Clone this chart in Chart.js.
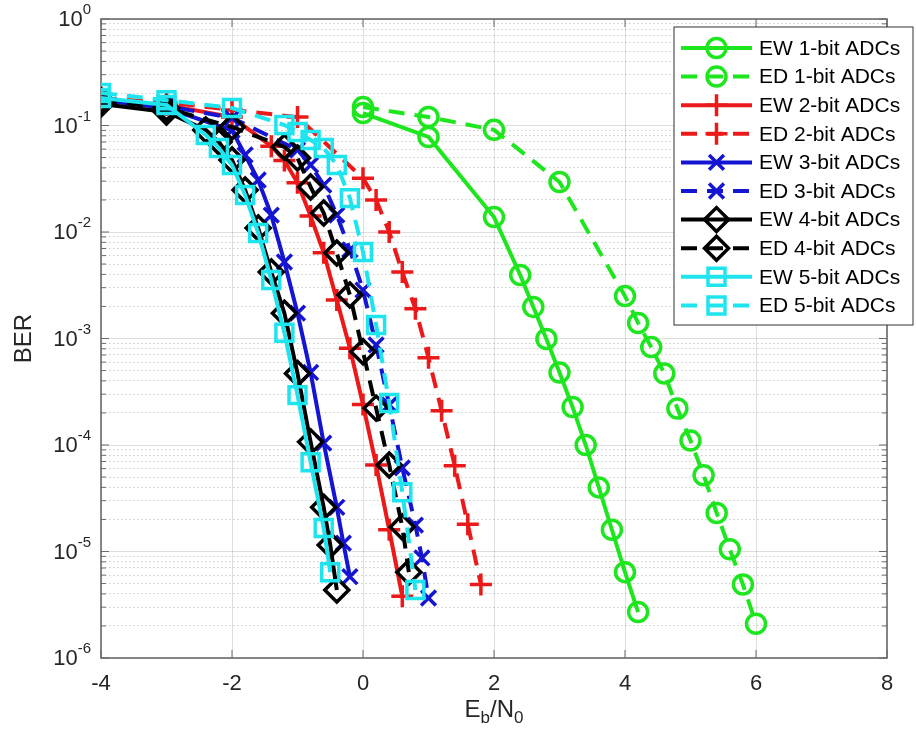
<!DOCTYPE html>
<html>
<head>
<meta charset="utf-8">
<title>BER vs Eb/N0</title>
<script src="https://cdn.jsdelivr.net/npm/chart.js@4.4.1/dist/chart.umd.min.js"></script>
<style>
  body { margin: 0; background: #fff; }
  #wrap { position: relative; width: 916px; height: 749px; }
  #xlabel {
    position: absolute; left: 101px; width: 786px; top: 695px; text-align: center;
    font-family: "Liberation Sans", Arial, sans-serif; font-size: 24px; color: #262626;
  }
  #xlabel sub { font-size: 17px; }
</style>
</head>
<body>
<div id="wrap">
  <canvas id="chart" width="916" height="749"></canvas>
  <div id="xlabel">E<sub>b</sub>/N<sub>0</sub></div>
</div>
<script>
const FONT = "'Liberation Sans', Arial, sans-serif";
const TEXT_COLOR = "#262626";
const AXIS_COLOR = "#6b6b6b";
const GREEN = "rgb(30, 230, 30)";
const RED = "rgb(235, 25, 25)";
const BLUE = "rgb(20, 20, 210)";
const BLACK = "rgb(0, 0, 0)";
const CYAN = "rgb(30, 228, 238)";

// legend labels
const seriesNames = [
    "EW 1-bit ADCs", "ED 1-bit ADCs",
    "EW 2-bit ADCs", "ED 2-bit ADCs",
    "EW 3-bit ADCs", "ED 3-bit ADCs",
    "EW 4-bit ADCs", "ED 4-bit ADCs",
    "EW 5-bit ADCs", "ED 5-bit ADCs"
];

// Eb/N0 (dB) and BER
const ew1Snr = [0, 1, 2, 2.4, 2.6, 2.8, 3.0, 3.2, 3.4, 3.6, 3.8, 4.0, 4.2];
const ew1Ber = [0.131, 0.078, 0.0138, 0.00395, 0.00198, 0.00099, 0.00048, 0.000227, 1.0e-4, 4.0e-5, 1.6e-5, 6.4e-6, 2.7e-6];

const ed1Snr = [0, 1, 2, 3, 4, 4.2, 4.4, 4.6, 4.8, 5.0, 5.2, 5.4, 5.6, 5.8, 6.0];
const ed1Ber = [0.149, 0.12, 0.091, 0.0295, 0.0025, 0.0014, 0.00083, 0.00047, 0.00022, 0.00011, 5.2e-5, 2.3e-5, 1.05e-5, 4.9e-6, 2.1e-6];

const ew2Snr = [-4, -3, -2, -1.4, -1.2, -1.0, -0.8, -0.6, -0.4, -0.2, 0, 0.2, 0.4, 0.6];
const ew2Ber = [0.17, 0.156, 0.12, 0.064, 0.047, 0.029, 0.0141, 0.0064, 0.0023, 0.00081, 0.00024, 6.5e-5, 1.6e-5, 3.8e-6];

const ed2Snr = [-4, -3, -2, -1, 0, 0.2, 0.4, 0.6, 0.8, 1.0, 1.2, 1.4, 1.6, 1.8];
const ed2Ber = [0.18, 0.165, 0.14, 0.12, 0.032, 0.020, 0.010, 0.0042, 0.0019, 0.00066, 0.00021, 6.4e-5, 1.8e-5, 4.9e-6];

const ew3Snr = [-4, -3, -2, -1.8, -1.6, -1.4, -1.2, -1.0, -0.8, -0.6, -0.4, -0.3, -0.2];
const ew3Ber = [0.173, 0.146, 0.09, 0.0529, 0.0308, 0.0144, 0.00523, 0.00173, 0.00048, 0.000104, 2.6e-5, 1.2e-5, 5.8e-6];

const ed3Snr = [-4, -3, -2, -1, -0.8, -0.6, -0.4, -0.2, 0, 0.2, 0.4, 0.6, 0.8, 0.9, 1.0];
const ed3Ber = [0.173, 0.152, 0.118, 0.0589, 0.0426, 0.0276, 0.0144, 0.0068, 0.00285, 0.00087, 0.000238, 6.1e-5, 1.77e-5, 8.7e-6, 3.66e-6];

const ew4Snr = [-4, -3, -2.4, -2.2, -2, -1.8, -1.6, -1.4, -1.2, -1.0, -0.8, -0.6, -0.5, -0.4];
const ew4Ber = [0.159, 0.134, 0.0908, 0.070, 0.0474, 0.0248, 0.0109, 0.00421, 0.00173, 0.00047, 0.000107, 2.6e-5, 1.15e-5, 4.35e-6];

const ed4Snr = [-4, -3, -2, -1.2, -1.0, -0.8, -0.6, -0.4, -0.2, 0, 0.2, 0.4, 0.6, 0.7];
const ed4Ber = [0.173, 0.146, 0.0968, 0.0629, 0.0495, 0.0265, 0.0151, 0.00635, 0.00256, 0.00075, 0.000222, 6.5e-5, 1.7e-5, 6.4e-6];

const ew5Snr = [-4, -3, -2.4, -2.2, -2, -1.8, -1.6, -1.4, -1.2, -1.0, -0.8, -0.6, -0.5];
const ew5Ber = [0.181, 0.156, 0.0814, 0.0615, 0.0426, 0.0223, 0.0098, 0.00354, 0.00113, 0.000294, 6.9e-5, 1.66e-5, 6.4e-6];

const ed5Snr = [-4, -3, -2, -1.2, -1.0, -0.8, -0.6, -0.4, -0.2, 0, 0.2, 0.4, 0.6, 0.8];
const ed5Ber = [0.202, 0.173, 0.146, 0.101, 0.0869, 0.0731, 0.0615, 0.0426, 0.0208, 0.0065, 0.00134, 0.000248, 3.6e-5, 4.35e-6];

// axis ticks
const xTicks = [-4, -2, 0, 2, 4, 6, 8];
const yDecades = [1e-6, 1e-5, 1e-4, 1e-3, 1e-2, 1e-1, 1];
const yMinorSteps = [2, 3, 4, 5, 6, 7, 8, 9];

const snrs = [ew1Snr, ed1Snr, ew2Snr, ed2Snr, ew3Snr, ed3Snr, ew4Snr, ed4Snr, ew5Snr, ed5Snr];
const bers = [ew1Ber, ed1Ber, ew2Ber, ed2Ber, ew3Ber, ed3Ber, ew4Ber, ed4Ber, ew5Ber, ed5Ber];
const colors = [GREEN, GREEN, RED, RED, BLUE, BLUE, BLACK, BLACK, CYAN, CYAN];
const markers = ["circle", "circle", "cross", "cross", "crossRot", "crossRot", "rectRot", "rectRot", "rect", "rect"];
const markerSizes = [9.5, 9.5, 11, 11, 10.5, 10.5, 12, 12, 12, 12];

const isDecade = (v) => Math.abs(Math.log10(v) - Math.round(Math.log10(v))) < 1e-9;

const yTickValues = [];
yDecades.forEach((d) => {
    yTickValues.push(d);
    if (d < 1) yMinorSteps.forEach(m => yTickValues.push(m * d));
});

const datasets = seriesNames.map((name, i) => ({
    label: name,
    data: snrs[i].map((x, k) => ({ x: x, y: bers[i][k] })),
    borderColor: colors[i],
    backgroundColor: colors[i],
    borderWidth: 4,
    borderDash: i % 2 ? [16, 10] : [],
    pointStyle: markers[i],
    pointRadius: markerSizes[i],
    pointHoverRadius: markerSizes[i],
    pointBorderWidth: 3.5,
    pointBorderColor: colors[i],
    pointBackgroundColor: "rgba(0,0,0,0)",
    tension: 0,
    fill: false,
    order: seriesNames.length - i
}));

// axes box with inward ticks, MATLAB style
const framePlugin = {
    id: "frame",
    beforeDatasetsDraw(chart) {
        const { ctx, chartArea: a, scales: { x, y } } = chart;
        ctx.save();
        ctx.strokeStyle = AXIS_COLOR;
        ctx.lineWidth = 1;
        ctx.beginPath();
        y.ticks.forEach(t => {
            const py = y.getPixelForValue(t.value);
            const len = isDecade(t.value) ? 8 : 5;
            ctx.moveTo(a.left, py); ctx.lineTo(a.left + len, py);
            ctx.moveTo(a.right, py); ctx.lineTo(a.right - len, py);
        });
        x.ticks.forEach(t => {
            const px = x.getPixelForValue(t.value);
            ctx.moveTo(px, a.bottom); ctx.lineTo(px, a.bottom - 8);
            ctx.moveTo(px, a.top); ctx.lineTo(px, a.top + 8);
        });
        ctx.stroke();
        ctx.lineWidth = 1.6;
        ctx.strokeRect(a.left, a.top, a.right - a.left, a.bottom - a.top);
        ctx.restore();
    },
    // decade labels as 10 with a raised exponent
    afterDraw(chart) {
        const { ctx, chartArea: a, scales: { y } } = chart;
        ctx.save();
        ctx.fillStyle = TEXT_COLOR;
        ctx.textBaseline = "middle";
        ctx.textAlign = "left";
        yDecades.forEach(d => {
            const py = y.getPixelForValue(d);
            const exp = String(Math.round(Math.log10(d)));
            ctx.font = "15px " + FONT;
            const ew = ctx.measureText(exp).width;
            ctx.font = "22px " + FONT;
            const bw = ctx.measureText("10").width;
            const right = a.left - 10;
            ctx.fillText("10", right - ew - bw, py + 1);
            ctx.font = "15px " + FONT;
            ctx.fillText(exp, right - ew, py - 9);
        });
        ctx.restore();
    }
};

// boxed legend inside the axes, top right
const legendPlugin = {
    id: "insideLegend",
    afterDatasetsDraw(chart) {
        const { ctx, chartArea: a } = chart;
        const boxLeft = a.right - 213;
        const boxTop = a.top + 8;
        const boxW = 239;
        const rowH = 28.6;
        const boxH = rowH * seriesNames.length + 12;
        ctx.save();
        ctx.fillStyle = "#fff";
        ctx.fillRect(boxLeft, boxTop, boxW, boxH);
        ctx.strokeStyle = "#333";
        ctx.lineWidth = 1;
        ctx.strokeRect(boxLeft, boxTop, boxW, boxH);
        ctx.font = "21px " + FONT;
        ctx.textBaseline = "middle";
        chart.data.datasets.forEach((ds, i) => {
            const cy = boxTop + 21 + i * rowH;
            const x0 = boxLeft + 7, x1 = boxLeft + 78, cx = (x0 + x1) / 2;
            ctx.strokeStyle = ds.borderColor;
            ctx.lineWidth = ds.borderWidth;
            ctx.setLineDash(ds.borderDash);
            ctx.beginPath();
            ctx.moveTo(x0, cy); ctx.lineTo(x1, cy);
            ctx.stroke();
            ctx.setLineDash([]);
            ctx.lineWidth = ds.pointBorderWidth;
            ctx.fillStyle = "rgba(0,0,0,0)";
            Chart.helpers.drawPoint(ctx, {
                pointStyle: ds.pointStyle, rotation: 0,
                radius: ds.pointRadius, borderWidth: ds.pointBorderWidth
            }, cx, cy);
            ctx.fillStyle = "#000";
            ctx.fillText(ds.label, boxLeft + 85, cy + 1);
        });
        ctx.restore();
    }
};

new Chart(document.getElementById("chart").getContext("2d"), {
    type: "line",
    data: { datasets: datasets },
    options: {
        responsive: false,
        animation: false,
        events: [],
        layout: { padding: { top: 19, right: 29, left: 0, bottom: 0 } },
        plugins: { legend: { display: false }, tooltip: { enabled: false } },
        scales: {
            x: {
                type: "linear",
                min: -4,
                max: 8,
                afterBuildTicks: (s) => { s.ticks = xTicks.map(v => ({ value: v })); },
                afterFit: (s) => { s.height = 91; },
                ticks: {
                    font: { family: FONT, size: 22 },
                    color: TEXT_COLOR,
                    padding: 13,
                    maxRotation: 0,
                    autoSkip: false,
                    callback: (v) => String(v)
                },
                grid: { color: "rgba(0,0,0,0.13)", lineWidth: 1, drawTicks: false },
                border: { display: false }
            },
            y: {
                type: "logarithmic",
                min: 1e-6,
                max: 1,
                afterBuildTicks: (s) => { s.ticks = yTickValues.map(v => ({ value: v, major: isDecade(v) })); },
                afterFit: (s) => { s.width = 101; },
                ticks: { display: false, autoSkip: false },
                grid: {
                    color: (c) => c.tick && isDecade(c.tick.value) ? "rgba(0,0,0,0.13)" : "rgba(0,0,0,0.2)",
                    lineWidth: 1,
                    drawTicks: false
                },
                border: {
                    display: false,
                    dash: (c) => c.tick && !isDecade(c.tick.value) ? [1.5, 2.5] : []
                },
                title: {
                    display: true,
                    text: "BER",
                    font: { family: FONT, size: 24 },
                    color: TEXT_COLOR,
                    padding: { top: 10, bottom: 0 }
                }
            }
        }
    },
    plugins: [framePlugin, legendPlugin]
});
</script>
</body>
</html>
